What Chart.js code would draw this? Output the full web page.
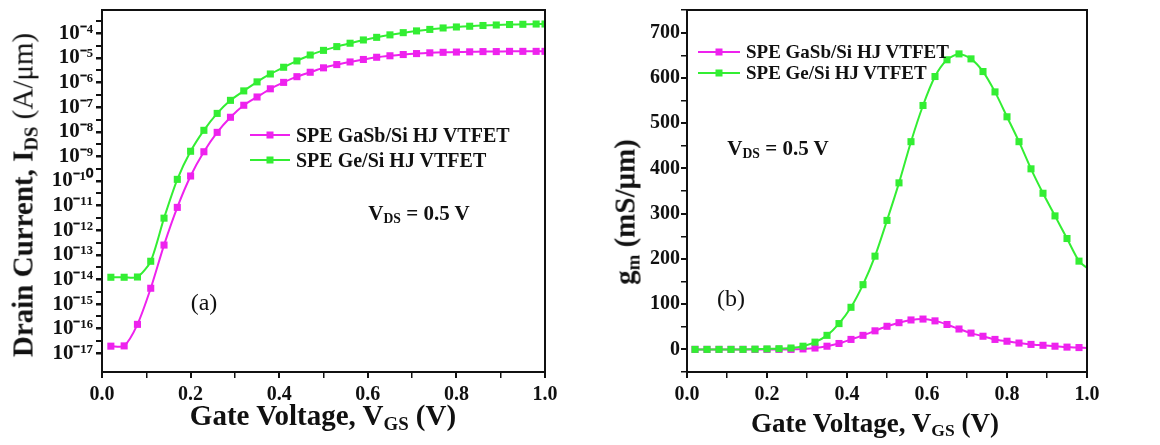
<!DOCTYPE html>
<html>
<head>
<meta charset="utf-8">
<script src="https://cdn.jsdelivr.net/npm/chart.js@4.4.1/dist/chart.umd.min.js"></script>
<style>
  body { margin: 0; background: #fff; font-family: 'Liberation Serif', 'Times New Roman', serif; color: #111; }
  #wrap { position: relative; width: 1160px; height: 445px; overflow: hidden; }
  canvas { position: absolute; top: 0; }
  .t { position: absolute; white-space: nowrap; font-weight: bold; line-height: 1; }
  .t sub { font-size: 0.65em; vertical-align: -0.25em; line-height: 0; }
  .cx { transform: translateX(-50%); }
  .rot { transform: translate(-50%, -50%) rotate(-90deg); }
  .lg { position: absolute; display: flex; align-items: center; height: 20px; white-space: nowrap; font-weight: bold; }
  .lg .ln { position: relative; display: inline-block; height: 2px; margin-right: 6px; }
  .lg .mk { position: absolute; left: 50%; top: 50%; width: 7px; height: 7px; transform: translate(-50%, -50%); }
</style>
</head>
<body>
<div id="wrap">
  <canvas id="ids-chart" width="560" height="445" style="left:0"></canvas>
  <canvas id="gm-chart" width="580" height="445" style="left:580px"></canvas>

  <!-- axis titles -->
  <div class="t rot" style="left:23px;top:195px;font-size:29px">Drain Current, I<sub>DS</sub> <span style="font-weight:normal">(A/μm)</span></div>
  <div class="t cx" style="left:323px;top:401px;font-size:29px">Gate Voltage, V<sub>GS</sub> (V)</div>
  <div class="t rot" style="left:625px;top:212px;font-size:29px">g<sub>m</sub> (mS/μm)</div>
  <div class="t cx" style="left:875px;top:410px;font-size:27px">Gate Voltage, V<sub>GS</sub> (V)</div>

  <!-- annotations -->
  <div class="t cx" style="left:419px;top:203px;font-size:21px">V<sub>DS</sub> = 0.5 V</div>
  <div class="t cx" style="left:778px;top:138px;font-size:21px">V<sub>DS</sub> = 0.5 V</div>
  <div class="t" style="left:204px;top:302px;font-size:24px;font-weight:normal;transform:translate(-50%,-50%)">(a)</div>
  <div class="t" style="left:731px;top:298px;font-size:24px;font-weight:normal;transform:translate(-50%,-50%)">(b)</div>

  <!-- legends -->
  <div class="lg" style="left:250px;top:125px;font-size:20px"><span class="ln" style="width:40px;background:#ee22ee"><span class="mk" style="background:#ee22ee"></span></span>SPE GaSb/Si HJ VTFET</div>
  <div class="lg" style="left:250px;top:150px;font-size:20px"><span class="ln" style="width:40px;background:#33ee33"><span class="mk" style="background:#33ee33"></span></span>SPE Ge/Si HJ VTFET</div>
  <div class="lg" style="left:698px;top:42px;font-size:19px"><span class="ln" style="width:42px;background:#ee22ee"><span class="mk" style="background:#ee22ee"></span></span>SPE GaSb/Si HJ VTFET</div>
  <div class="lg" style="left:698px;top:63px;font-size:19px"><span class="ln" style="width:42px;background:#33ee33"><span class="mk" style="background:#33ee33"></span></span>SPE Ge/Si HJ VTFET</div>
</div>

<script>
// Data
const gateVoltage = [0.02, 0.05, 0.08, 0.11, 0.14, 0.17, 0.20, 0.23, 0.26, 0.29, 0.32, 0.35,
  0.38, 0.41, 0.44, 0.47, 0.50, 0.53, 0.56, 0.59, 0.62, 0.65, 0.68, 0.71, 0.74, 0.77,
  0.80, 0.83, 0.86, 0.89, 0.92, 0.95, 0.98, 1.00];

// Drain current (A/um)
const idsGaSb = [1.95e-17, 2.0e-17, 1.5e-16, 4.4e-15, 2.5e-13, 8.5e-12, 1.6e-10, 1.55e-9, 9.5e-9,
  3.9e-8, 1.2e-7, 2.6e-7, 5.6e-7, 1.02e-6, 1.74e-6, 2.63e-6, 3.98e-6, 5.4e-6, 6.9e-6, 8.7e-6,
  1.07e-5, 1.23e-5, 1.38e-5, 1.51e-5, 1.62e-5, 1.70e-5, 1.74e-5, 1.78e-5, 1.82e-5, 1.82e-5,
  1.86e-5, 1.86e-5, 1.86e-5, 1.86e-5];
const idsGe = [1.23e-14, 1.23e-14, 1.26e-14, 5.5e-14, 3.1e-12, 1.17e-10, 1.62e-9, 1.15e-8, 5.6e-8,
  1.9e-7, 4.6e-7, 1.07e-6, 2.24e-6, 4.2e-6, 7.6e-6, 1.32e-5, 2.04e-5, 2.9e-5, 3.98e-5, 5.4e-5,
  6.9e-5, 8.7e-5, 1.07e-4, 1.26e-4, 1.45e-4, 1.66e-4, 1.82e-4, 1.95e-4, 2.09e-4, 2.19e-4,
  2.29e-4, 2.34e-4, 2.40e-4, 2.40e-4];

// Transconductance (mS/um)
const gmGaSb = [0, 0, 0, 0, 0, 0, 0, 0, 0, 1, 3, 7, 13, 22, 31, 41, 51, 59, 65, 67, 63, 55, 45,
  36, 29, 22, 18, 14, 11, 9, 7, 5, 4, 3];
const gmGe = [0, 0, 0, 0, 0, 0.5, 1, 1.5, 3, 7, 16, 31, 57, 93, 143, 206, 285, 368, 459, 539, 603,
  640, 653, 642, 614, 569, 514, 459, 399, 345, 295, 245, 195, 180];

const idsTickExps = [-17, -16, -15, -14, -13, -12, -11, -10, -9, -8, -7, -6, -5, -4];

const magenta = '#ee22ee';
const green = '#33ee33';
const ink = '#111';
const tickFont = { family: "'Liberation Serif', 'Times New Roman', serif", weight: 'bold', size: 20 };

const sup = { '-': '⁻', '0': '⁰', '1': '¹', '2': '²', '3': '³', '4': '⁴', '5': '⁵', '6': '⁶', '7': '⁷', '8': '⁸', '9': '⁹' };
function powLabel(e) {
  return '10' + String(e).split('').map(c => sup[c]).join('');
}

function toPoints(ys) {
  return gateVoltage.map((x, i) => ({ x, y: ys[i] }));
}

const framePlugin = {
  id: 'frame',
  afterDraw(chart) {
    const { ctx, chartArea: a } = chart;
    ctx.save();
    ctx.strokeStyle = ink;
    ctx.lineWidth = 2;
    ctx.strokeRect(a.left, a.top, a.right - a.left, a.bottom - a.top);
    ctx.restore();
  }
};

function lineSet(label, color, ys, order, hideEnd) {
  return {
    label,
    data: toPoints(ys),
    borderColor: color,
    backgroundColor: color,
    borderWidth: 2,
    pointStyle: 'rect',
    pointRadius: c => (hideEnd && c.parsed && c.parsed.x >= 1) ? 0 : 5,
    pointBorderWidth: 0,
    tension: 0.25,
    order
  };
}

function xAxis() {
  return {
    type: 'linear',
    min: 0,
    max: 1,
    afterBuildTicks: s => {
      s.ticks = [0, 0.1, 0.2, 0.3, 0.4, 0.5, 0.6, 0.7, 0.8, 0.9, 1.0].map(v => ({ value: v }));
    },
    afterFit: s => { s.height = 73; s.paddingLeft = 0; s.paddingRight = 0; },
    ticks: {
      autoSkip: false,
      maxRotation: 0,
      padding: 5,
      color: ink,
      font: tickFont,
      callback: v => (Math.round(v * 10) % 2 === 0 ? v.toFixed(1) : '')
    },
    grid: {
      drawOnChartArea: false,
      color: ink,
      tickLength: 6,
      lineWidth: c => (Math.round(c.tick.value * 10) % 2 === 0 ? 2 : 1.5)
    },
    border: { color: ink, width: 2 }
  };
}

// (a) drain current, log scale
new Chart(document.getElementById('ids-chart').getContext('2d'), {
  type: 'line',
  data: {
    datasets: [
      lineSet('SPE GaSb/Si HJ VTFET', magenta, idsGaSb, 1, false),
      lineSet('SPE Ge/Si HJ VTFET', green, idsGe, 0, false)
    ]
  },
  options: {
    responsive: false,
    animation: false,
    layout: { padding: { left: 0, right: 15, top: 10, bottom: 0 } },
    plugins: { legend: { display: false }, tooltip: { enabled: false } },
    scales: {
      x: xAxis(),
      y: {
        type: 'logarithmic',
        min: Math.pow(10, -17.76),
        max: Math.pow(10, -3.05),
        afterBuildTicks: s => {
          const t = [];
          idsTickExps.forEach(e => {
            t.push({ value: Math.pow(10, e) });
            t.push({ value: Math.pow(10, e + 0.5) });
          });
          s.ticks = t;
        },
        afterFit: s => { s.width = 102; s.paddingTop = 0; s.paddingBottom = 0; },
        ticks: {
          autoSkip: false,
          padding: 3,
          color: ink,
          font: { ...tickFont, size: 21 },
          callback: v => {
            const e = Math.log10(v);
            return Math.abs(e - Math.round(e)) < 0.01 ? powLabel(Math.round(e)) : '';
          }
        },
        grid: {
          drawOnChartArea: false,
          color: ink,
          tickLength: 6,
          lineWidth: c => {
            const e = Math.log10(c.tick.value);
            return Math.abs(e - Math.round(e)) < 0.01 ? 2.5 : 2;
          }
        },
        border: { color: ink, width: 2 }
      }
    }
  },
  plugins: [framePlugin]
});

// (b) transconductance
new Chart(document.getElementById('gm-chart').getContext('2d'), {
  type: 'line',
  data: {
    datasets: [
      lineSet('SPE GaSb/Si HJ VTFET', magenta, gmGaSb, 1, true),
      lineSet('SPE Ge/Si HJ VTFET', green, gmGe, 0, true)
    ]
  },
  options: {
    responsive: false,
    animation: false,
    layout: { padding: { left: 0, right: 73, top: 10, bottom: 0 } },
    plugins: { legend: { display: false }, tooltip: { enabled: false } },
    scales: {
      x: xAxis(),
      y: {
        type: 'linear',
        min: -50,
        max: 750,
        ticks: {
          stepSize: 50,
          autoSkip: false,
          padding: 1,
          color: ink,
          font: tickFont,
          callback: v => (v % 100 === 0 && v >= 0 && v <= 700 ? String(v) : '')
        },
        afterFit: s => { s.width = 107; s.paddingTop = 0; s.paddingBottom = 0; },
        grid: {
          drawOnChartArea: false,
          color: ink,
          tickLength: 6,
          lineWidth: c => (c.tick.value % 100 === 0 ? 2 : 1.5)
        },
        border: { color: ink, width: 2 }
      }
    }
  },
  plugins: [framePlugin]
});
</script>
</body>
</html>
